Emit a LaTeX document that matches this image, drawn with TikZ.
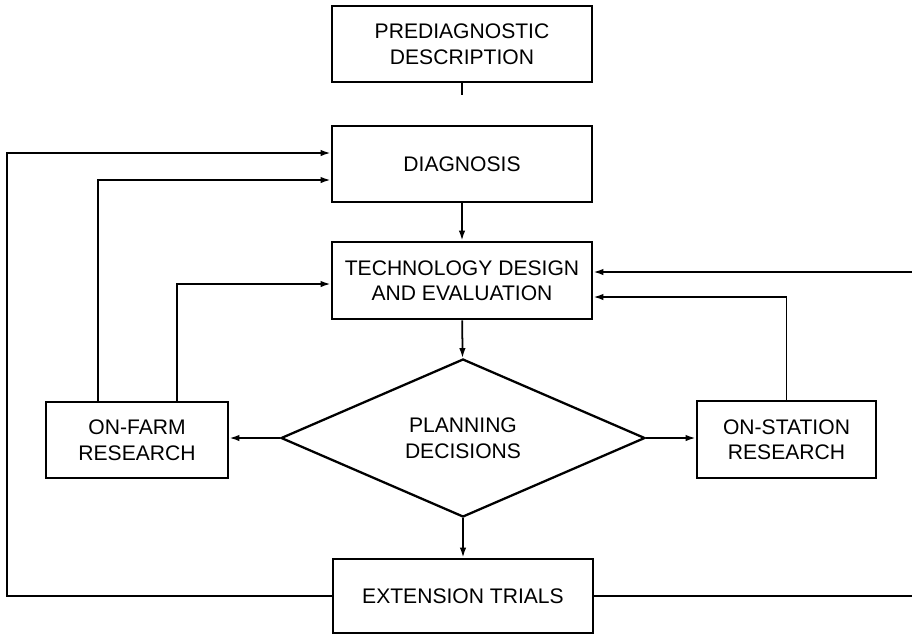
\documentclass[tikz,border=0pt]{standalone}
\usepackage{fontspec}
\setmainfont{Liberation Sans}
\usetikzlibrary{calc,arrows,arrows.meta,shapes.geometric}
\tikzstyle{ln}=[line width=1pt,>={Latex[length=2mm,width=1.3mm]}]

\begin{document}
\begin{tikzpicture}[x=0.2mm,y=-0.2mm]
%\draw[help lines] (0,0) grid[step=50] (912,638);
\useasboundingbox (0,0) rectangle (912,638);
\tikzstyle{bx}=[rectangle,draw,line width=1.6pt,inner sep=0pt,align=center,minimum width=52mm,minimum height=15.2mm,font=\fontsize{12}{14.5}\selectfont]

\node[bx] (pre) at (462,44) {PREDIAGNOSTIC\\DESCRIPTION};
\node[bx] (diag) at (462,164) {DIAGNOSIS};
\node[bx,minimum height=15.4mm] (tech) at (462,280.5) {TECHNOLOGY DESIGN\\AND EVALUATION};
\node[diamond,draw,line width=1.3pt,aspect=2.3,inner sep=0pt,minimum width=72.8mm,minimum height=31.6mm,align=center,font=\fontsize{12}{14.5}\selectfont] (plan) at (463,438) {PLANNING\\DECISIONS};
\node[bx,minimum width=36.4mm] (farm) at (137,440) {ON-FARM\\RESEARCH};
\node[bx,minimum width=35.8mm,minimum height=15.4mm] (stat) at (786.5,439.5) {ON-STATION\\RESEARCH};
\node[bx,minimum height=14.8mm] (ext) at (463,596) {EXTENSION TRIALS};

% loose ends
\coordinate (lft) at (7,0);
\coordinate (rgt) at (912,0);
\coordinate (stub) at (462,95);

\draw[ln] (pre.south -| stub) -- (stub);
\draw[ln,->] (diag) -- (tech);
\draw[ln,->] (tech) -- (plan);
\draw[ln,->] (plan) -- (ext);
\draw[ln,->] (plan.west) -- (plan.west -| farm.east);
\draw[ln,->] (plan.east) -- (plan.east -| stat.west);

\draw[ln,->] (ext.west) -- (ext.west -| lft) |- ($(diag.west)+(0,-11)$);
\draw[ln,->] ($(farm.north)+(-39,0)$) |- ($(diag.west)+(0,16)$);
\draw[ln,->] ($(farm.north)+(40,0)$) |- ($(tech.west)+(0,3.5)$);
\draw[ln,<-] ($(tech.east)+(0,-8.5)$) coordinate (t1) -- (t1 -| rgt);
\draw[ln,->] (stat.north) |- ($(tech.east)+(0,16.5)$);
\draw[ln] (ext.east) -- (ext.east -| rgt);
\end{tikzpicture}
\end{document}
